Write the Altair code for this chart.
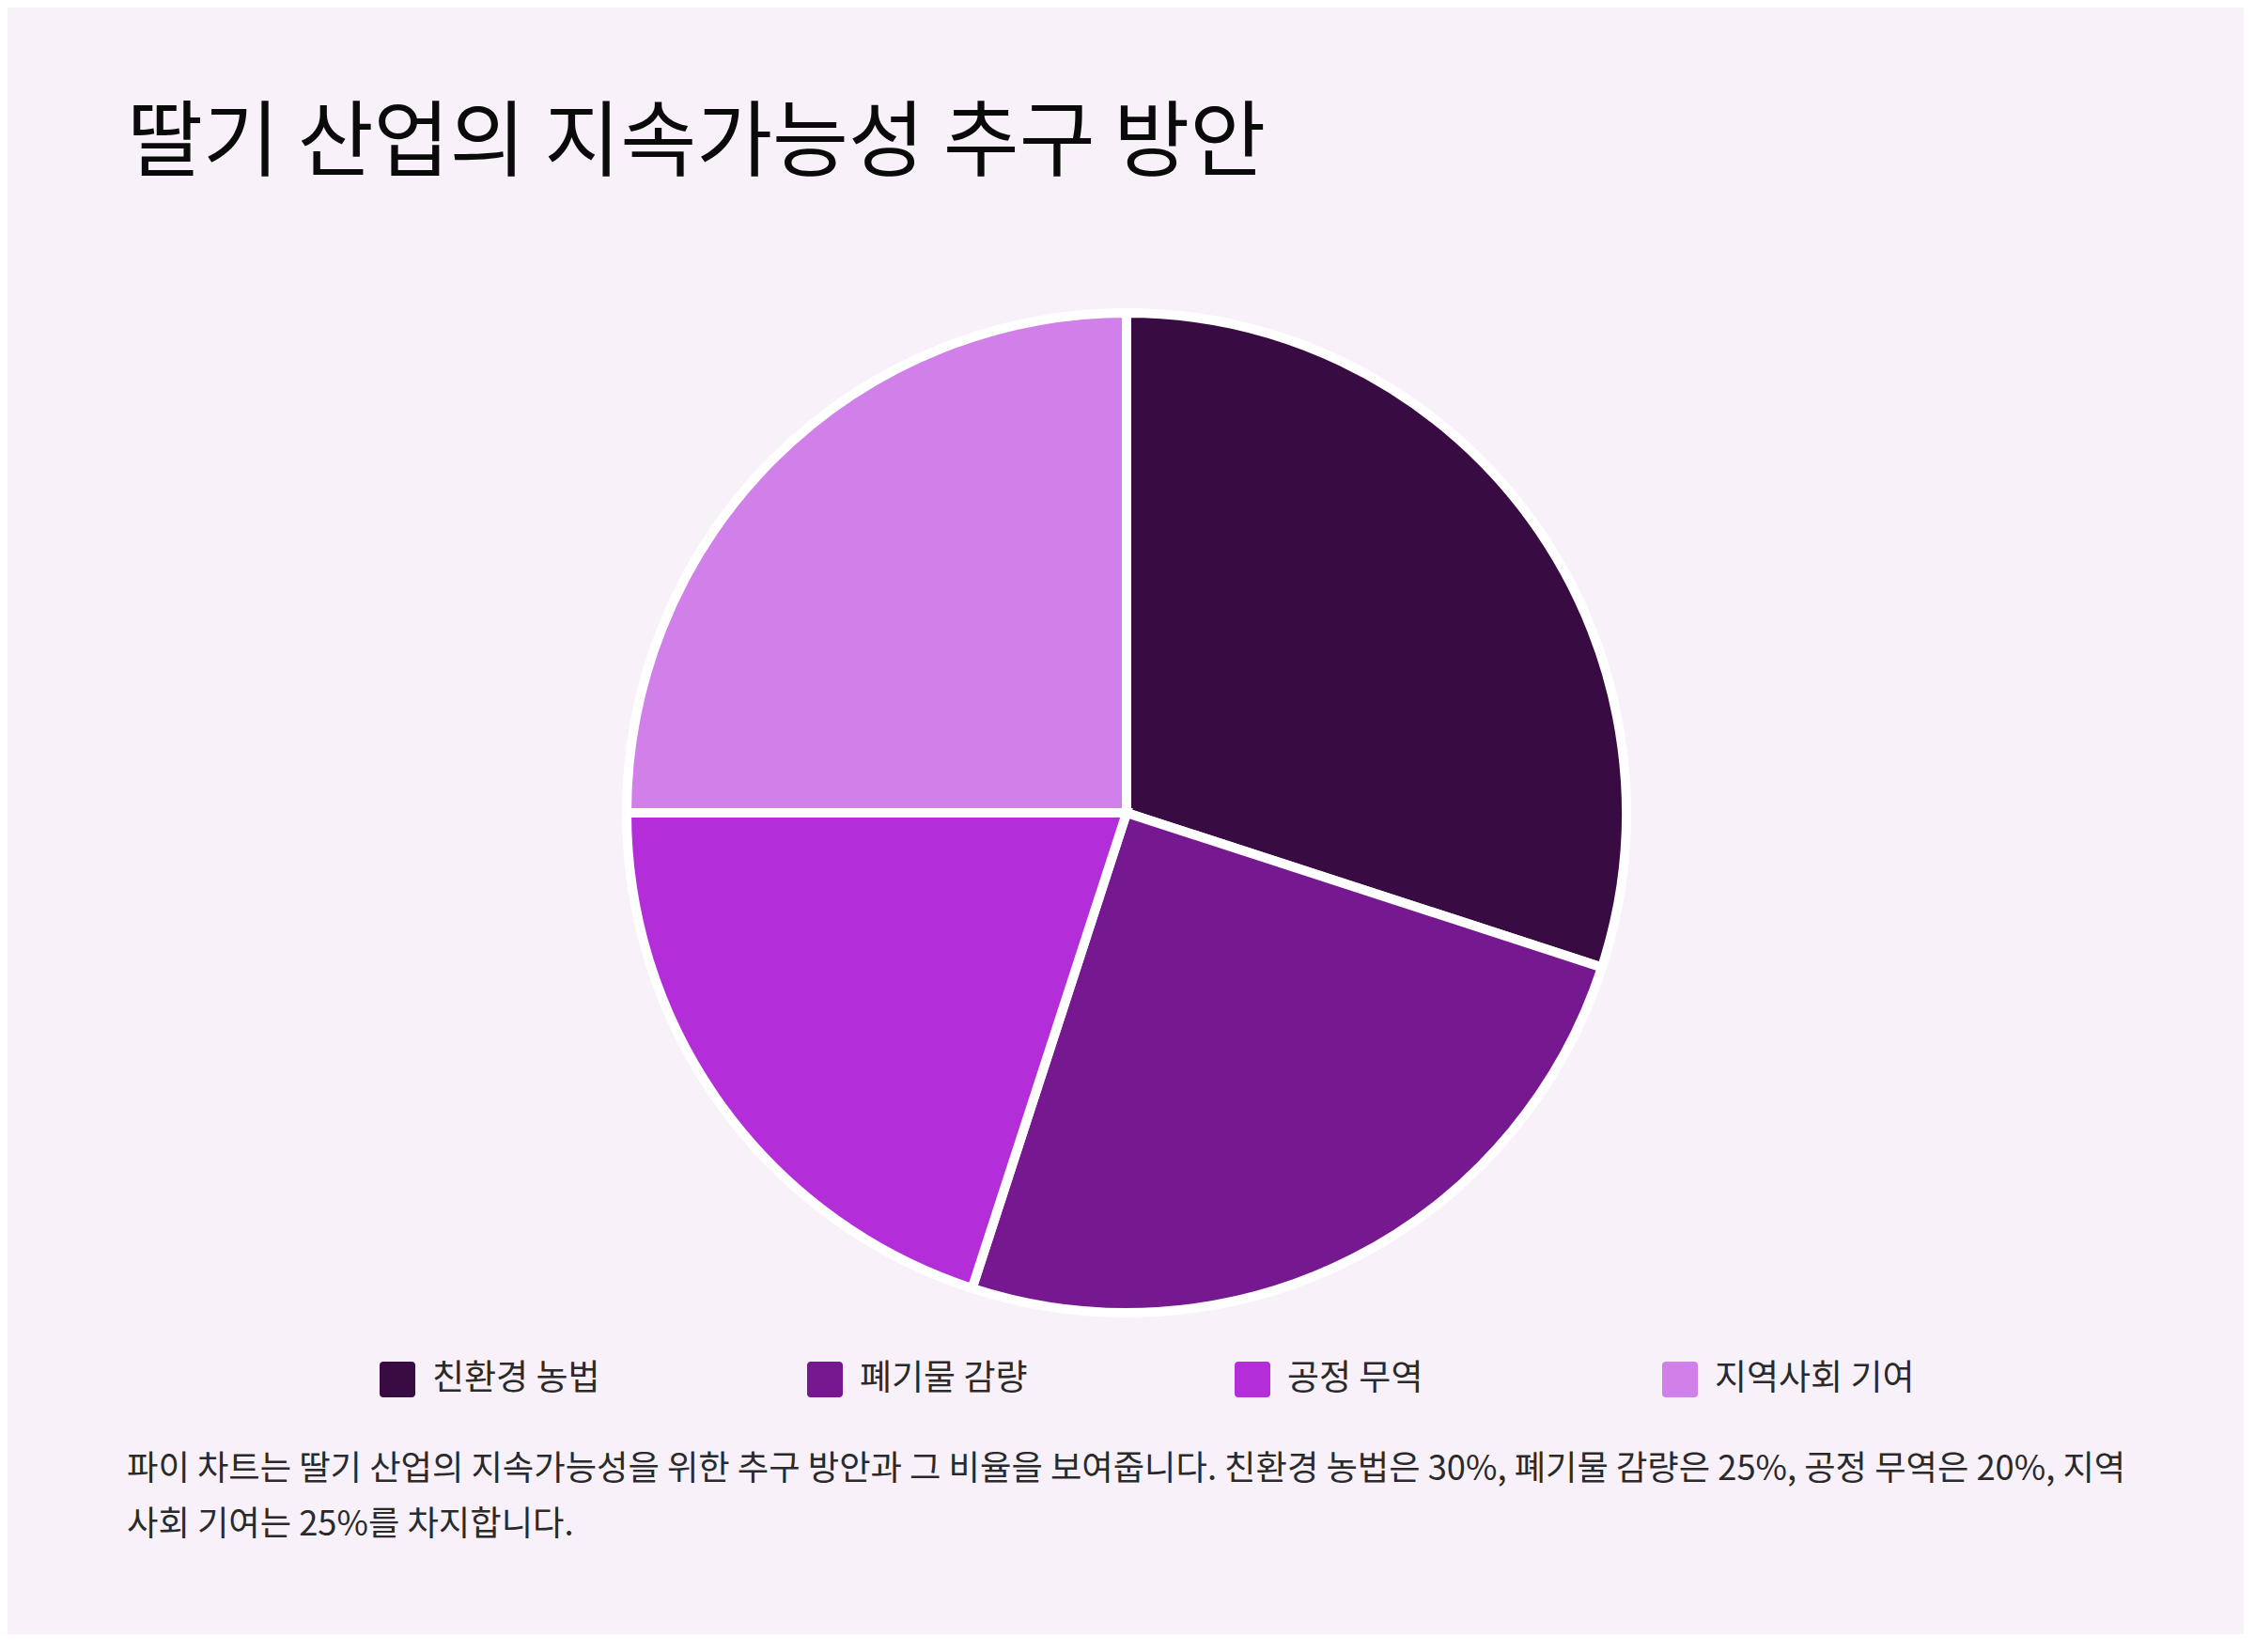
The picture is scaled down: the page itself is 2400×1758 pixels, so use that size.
import altair as alt
import pandas as pd

# ---- data ----
categories = ["친환경 농법", "폐기물 감량", "공정 무역", "지역사회 기여"]
values = [30, 25, 20, 25]
colors = ["#380c42", "#761890", "#b32dd8", "#d080e8"]
title_text = "딸기 산업의 지속가능성 추구 방안"
caption_lines = [
    "파이 차트는 딸기 산업의 지속가능성을 위한 추구 방안과 그 비율을 보여줍니다. 친환경 농법은 30%, 폐기물 감량은 25%, 공정 무역은 20%, 지역",
    "사회 기여는 25%를 차지합니다.",
]

FONT = "Noto Sans CJK KR"
BG = "#f8f1fa"

pie_df = pd.DataFrame({"category": categories, "value": values, "order": list(range(len(categories)))})
cap_df = pd.DataFrame({"line": list(range(len(caption_lines))), "text": caption_lines})

rounded_square = (
    "M -0.8,-1 H 0.8 A 0.2,0.2 0 0 1 1,-0.8 V 0.8 A 0.2,0.2 0 0 1 0.8,1 "
    "H -0.8 A 0.2,0.2 0 0 1 -1,0.8 V -0.8 A 0.2,0.2 0 0 1 -0.8,-1 Z"
)

pie = (
    alt.Chart(pie_df)
    .mark_arc(outerRadius=532, stroke="white", strokeWidth=10)
    .encode(
        theta=alt.Theta("value:Q", stack=True),
        order=alt.Order("order:Q"),
        color=alt.Color(
            "category:N",
            scale=alt.Scale(domain=categories, range=colors),
            legend=alt.Legend(
                title=None,
                orient="none",
                legendX=269,
                legendY=1124,
                direction="horizontal",
                columns=4,
                gridAlign="all",
                columnPadding=186,
                symbolType=rounded_square,
                symbolSize=1444,
                symbolStrokeWidth=0,
                labelFont=FONT,
                labelFontSize=37,
                labelColor="#2a2a2a",
                labelOffset=18,
                labelLimit=400,
            ),
        ),
    )
    .properties(width=2128, height=1080)
)

caption = (
    alt.Chart(cap_df)
    .mark_text(align="left", baseline="middle", font=FONT, fontSize=36.3, color="#2a2a2a")
    .encode(
        x=alt.value(0),
        y=alt.Y("line:O", axis=None, scale=alt.Scale(paddingInner=0, paddingOuter=0)),
        text="text:N",
    )
    .properties(width=2128, height=118)
)

chart = (
    alt.vconcat(pie, caption, spacing=47)
    .resolve_scale(color="independent")
    .resolve_legend(color="independent")
    .properties(
        title=alt.TitleParams(
            title_text,
            anchor="start",
            font=FONT,
            fontSize=88,
            fontWeight="normal",
            color="#0a0a0a",
            offset=115,
        ),
        padding={"left": 127, "top": 102, "right": 125, "bottom": 87},
        background=BG,
    )
    .configure_view(stroke=None)
)

chart.save("out.html", embed_options={"renderer": "svg", "actions": False})
